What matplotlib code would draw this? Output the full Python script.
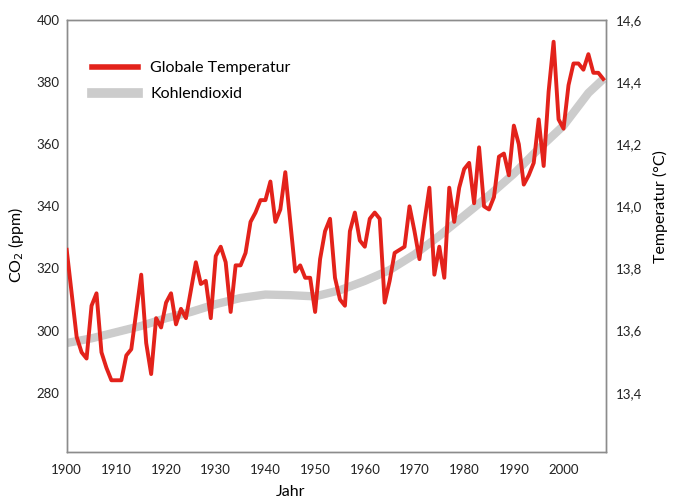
import matplotlib
matplotlib.use("Agg")
import matplotlib.pyplot as plt
from matplotlib.lines import Line2D

# Daten: globale Temperatur (Jahresmittel) und CO2-Konzentration
jahre = list(range(1900, 2009))
temperatur = [
    13.86, 13.72, 13.58, 13.53, 13.51, 13.68, 13.72, 13.53, 13.48, 13.44,
    13.44, 13.44, 13.52, 13.54, 13.66, 13.78, 13.56, 13.46, 13.64, 13.61,
    13.69, 13.72, 13.62, 13.67, 13.64, 13.73, 13.82, 13.75, 13.76, 13.64,
    13.84, 13.87, 13.82, 13.66, 13.81, 13.81, 13.85, 13.95, 13.98, 14.02,
    14.02, 14.08, 13.95, 13.99, 14.11, 13.95, 13.79, 13.81, 13.77, 13.77,
    13.66, 13.83, 13.92, 13.96, 13.77, 13.70, 13.68, 13.92, 13.98, 13.89,
    13.87, 13.96, 13.98, 13.96, 13.69, 13.76, 13.85, 13.86, 13.87, 14.00,
    13.92, 13.83, 13.95, 14.06, 13.78, 13.87, 13.77, 14.06, 13.95, 14.06,
    14.12, 14.14, 14.01, 14.19, 14.00, 13.99, 14.03, 14.16, 14.17, 14.10,
    14.26, 14.20, 14.07, 14.10, 14.14, 14.28, 14.13, 14.37, 14.53, 14.28,
    14.25, 14.39, 14.46, 14.46, 14.44, 14.49, 14.43, 14.43, 14.41,
]

co2_jahre = [1900, 1905, 1910, 1915, 1920, 1925, 1930, 1935, 1940, 1945,
             1950, 1955, 1960, 1965, 1970, 1975, 1980, 1985, 1990, 1995,
             2000, 2005, 2008]
co2 = [296, 297.5, 299.5, 301.5, 304, 306, 308.5, 310.5, 311.6, 311.4,
       311, 313, 316, 319.5, 324.5, 330.5, 337, 343.5, 350.5, 358.5,
       366, 376.5, 381]

x_ticks = list(range(1900, 2001, 10))
co2_ticks = [280, 300, 320, 340, 360, 380, 400]
temp_ticks = [13.4, 13.6, 13.8, 14.0, 14.2, 14.4, 14.6]

plt.rcParams['font.family'] = ['Lato', 'DejaVu Sans']

rot = '#e3221b'
grau = '#cccccc'
rahmen = '#8c8c8c'

fig = plt.figure(figsize=(6.73, 5), dpi=100)
ax = fig.add_axes([0.0991, 0.0966, 0.801, 0.8634])

# CO2 (linke Achse)
ax.plot(co2_jahre, co2, color=grau, lw=6, solid_capstyle='butt', zorder=1)
ax.set_xlim(1900.5, 2008.5)
ax.set_ylim(261, 400)
ax.set_xticks(x_ticks)
ax.set_yticks(co2_ticks)
ax.tick_params(axis='both', length=0, labelsize=9.5, colors='#222222')
ax.tick_params(axis='x', pad=9)
ax.tick_params(axis='y', pad=5)
ax.set_ylabel('CO$_2$ (ppm)', fontsize=11.5)
ax.yaxis.set_label_coords(-0.075, 0.48)

# Temperatur (rechte Achse)
ax2 = ax.twinx()
ax2.plot(jahre, temperatur, color=rot, lw=2.8, zorder=3)
ax2.set_ylim(13.21, 14.6)
ax2.set_yticks(temp_ticks)
ax2.set_yticklabels([f'{t:.1f}'.replace('.', ',') for t in temp_ticks])
ax2.tick_params(axis='y', length=0, labelsize=9.5, pad=7, colors='#222222')
ax2.set_ylabel('Temperatur (°C)', fontsize=11.5)
ax2.yaxis.set_label_coords(1.087, 0.567)

for a in (ax, ax2):
    for s in a.spines.values():
        s.set_color(rahmen)
        s.set_linewidth(1)

fig.text(0.431, 0.003, 'Jahr', fontsize=11.5, ha='center', va='bottom')

# Legende
handles = [Line2D([], [], color=rot, lw=4),
           Line2D([], [], color=grau, lw=7)]
leg = ax2.legend(handles, ['Globale Temperatur', 'Kohlendioxid'],
                 loc='upper left', bbox_to_anchor=(0.047, 0.905),
                 borderpad=0, borderaxespad=0,
                 frameon=False, fontsize=11.5, handlelength=2.9,
                 handletextpad=0.75, labelspacing=0.75)

fig.savefig('out.png', dpi=100)
